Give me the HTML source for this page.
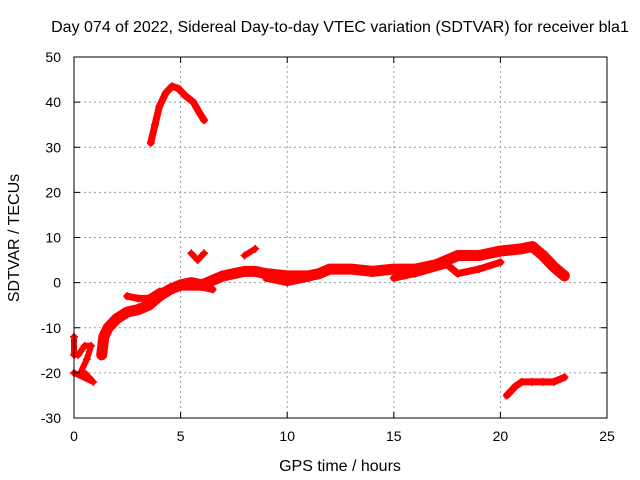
<!DOCTYPE html>
<html><head><meta charset="utf-8"><style>
body{margin:0;background:#fff}
svg{display:block;font-family:"Liberation Sans",sans-serif;font-size:14px}
.big{font-size:16px}
</style></head><body>
<svg id="chart" width="640" height="480">
<rect width="640" height="480" fill="#fff"/>
<g id="grid"></g><g id="data"></g><g id="axes"></g>
</svg>
<script>
const xTicks=[0,5,10,15,20,25];
const yTicks=[-30,-20,-10,0,10,20,30,40,50];
const seriesArc=[[3.6,31],[3.8,35],[4.0,39],[4.3,42],[4.6,43.5],[4.9,43],[5.2,41.5],[5.6,40],[5.9,37.5],[6.1,36]];
const seriesMain=[[1.3,-16],[1.4,-12],[1.6,-10],[2.0,-8],[2.5,-6.5],[3.0,-6],[3.5,-5],[4.0,-3],[4.5,-1.5],[5,-0.5],[5.5,0],[6,-0.5],[6.5,0.5],[7,1.5],[7.5,2],[8,2.5],[8.5,2.5],[9,2],[10,1.5],[11,1.5],[11.5,2],[12,3],[13,3],[14,2.5],[15,3],[16,3],[17,4],[17.5,5],[18,6],[19,6],[20,7],[21,7.5],[21.5,8],[22,6],[22.5,3.5],[23,1.5]];
const seriesLow=[[2.5,-3],[3,-3.5],[3.5,-3.5],[4,-2],[5,-1],[6,-1],[6.5,-1.5]];
const seriesMid=[[9,1],[10,0],[11,1]];
const seriesLate=[[15,1],[16,2],[17.5,4],[18,2],[19,3],[20,4.5]];
const seriesBlipA=[[5.5,6.5],[5.8,5],[6.1,6.5]];
const seriesBlipB=[[8,6],[8.5,7.5]];
const seriesBottom=[[20.3,-25],[20.7,-23],[21,-22],[21.5,-22],[22,-22],[22.5,-22],[23,-21]];
const seriesCluster=[[0,-12],[0,-16],[0.2,-16],[0.5,-14],[0.8,-14],[0.6,-17],[0.3,-20],[0.5,-20],[0.7,-21],[0.9,-22],[0,-20]];
const X0=74,X1=607,Y0=418,Y1=57;
const sx=v=>X0+(v-0)/(25-0)*(X1-X0);
const sy=v=>Y0-(v+30)/(80)*(Y0-Y1);
const NS="http://www.w3.org/2000/svg";
function mk(t,a,p){const e=document.createElementNS(NS,t);for(const k in a)e.setAttribute(k,a[k]);p.appendChild(e);return e;}
const grid=document.getElementById('grid'),axes=document.getElementById('axes'),data=document.getElementById('data');
xTicks.forEach(t=>{
 if(t>0&&t<25){const l=mk('line',{x1:sx(t),x2:sx(t),y1:Y0,y2:Y1,stroke:'#999','stroke-dasharray':'2,3'},grid);
 }
 mk('line',{x1:sx(t),x2:sx(t),y1:Y0,y2:Y0-6,stroke:'#000'},axes);
 mk('line',{x1:sx(t),x2:sx(t),y1:Y1,y2:Y1+6,stroke:'#000'},axes);
 const tx=mk('text',{x:sx(t),y:Y0+23,'text-anchor':'middle'},axes);tx.textContent=t;
 
});
yTicks.forEach(t=>{
 if(t>-30&&t<50){const l=mk('line',{x1:X0,x2:X1,y1:sy(t),y2:sy(t),stroke:'#999','stroke-dasharray':'2,3'},grid);
 }
 mk('line',{x1:X0,x2:X0+6,y1:sy(t),y2:sy(t),stroke:'#000'},axes);
 mk('line',{x1:X1,x2:X1-6,y1:sy(t),y2:sy(t),stroke:'#000'},axes);
 const tx=mk('text',{x:X0-13,y:sy(t)+5,'text-anchor':'end'},axes);tx.textContent=t;
 
});
const fr=mk('rect',{x:X0,y:Y1,width:X1-X0,height:Y0-Y1,fill:'none',stroke:'#000'},axes);

const all=[['arc',seriesArc,7],['main',seriesMain,11],['low',seriesLow,7],['mid',seriesMid,7],['late',seriesLate,7],['blip-a',seriesBlipA,6],['blip-b',seriesBlipB,6],['bottom',seriesBottom,7],['cluster',seriesCluster,6]];
all.forEach(([n,s,w])=>{
 const g=mk('g',{},data);
 
 
 mk('polyline',{points:s.map(p=>sx(p[0])+','+sy(p[1])).join(' '),fill:'none',stroke:'#f00','stroke-width':w,'stroke-linejoin':'round','stroke-linecap':'round'},g);
 s.forEach(p=>{const x=sx(p[0]),y=sy(p[1]);
  const m=mk('path',{d:`M${x-4},${y}H${x+4}M${x},${y-4}V${y+4}`,stroke:'#f00','stroke-width':1.5},g);
  });
});
const t=mk('text',{x:340,y:32,'text-anchor':'middle','class':'big'},axes);t.textContent='Day 074 of 2022, Sidereal Day-to-day VTEC variation (SDTVAR) for receiver bla1';

const xl=mk('text',{x:340,y:471,'text-anchor':'middle','class':'big'},axes);xl.textContent='GPS time / hours';

const yl=mk('text',{x:0,y:0,'text-anchor':'middle','class':'big',transform:'translate(19,238) rotate(-90)'},axes);yl.textContent='SDTVAR / TECUs';

</script>
</body></html>
